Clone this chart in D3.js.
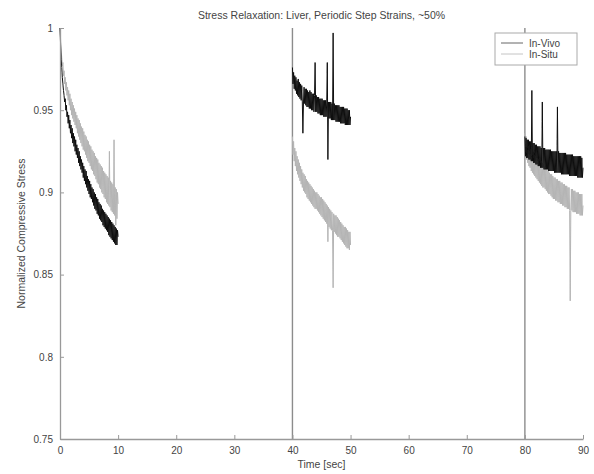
<!DOCTYPE html>
<html>
<head>
<meta charset="utf-8">
<script src="https://cdn.jsdelivr.net/npm/d3@7"></script>
<style>
  body { margin: 0; background: #fff; }
  svg { display: block; font-family: "Liberation Sans", Arial, sans-serif; }
  .axis path, .axis line { stroke: #999; }
  .axis text { fill: #444; font-size: 10px; }
</style>
</head>
<body>
<svg width="594" height="474"></svg>
<script>
const svg = d3.select("svg");

const titleText = "Stress Relaxation: Liver, Periodic Step Strains, ~50%";
const xLabelText = "Time [sec]";
const yLabelText = "Normalized Compressive Stress";

// Tick values and labels (MATLAB style)
const xTicks = [0, 10, 20, 30, 40, 50, 60, 70, 80, 90];
const yTicks = [0.75, 0.8, 0.85, 0.9, 0.95, 1];
const yTickLabels = ["0.75", "0.8", "0.85", "0.9", "0.95", "1"];

// Each hold starts at a step and is sampled every 0.1 s for 10 s
const segmentStarts = [0, 40, 80];
const segmentLength = 10;
const stepTimes = [40, 80];

// In-Vivo stress (0.1 s samples)
const inVivoSeg1 = [1.000,0.990,0.981,0.976,0.970,0.966,0.962,0.959,0.955,0.957,0.950,0.953,0.946,0.949,0.942,0.947,0.939,0.944,0.936,0.941,
  0.933,0.939,0.930,0.936,0.928,0.934,0.925,0.932,0.923,0.929,0.921,0.927,0.918,0.925,0.916,0.922,0.914,0.920,0.912,0.918,
  0.909,0.916,0.907,0.914,0.905,0.913,0.903,0.910,0.901,0.908,0.899,0.907,0.897,0.905,0.896,0.903,0.894,0.902,0.892,0.900,
  0.890,0.899,0.889,0.897,0.887,0.896,0.886,0.894,0.884,0.893,0.883,0.892,0.882,0.890,0.880,0.889,0.879,0.888,0.878,0.887,
  0.877,0.886,0.876,0.885,0.874,0.884,0.873,0.883,0.872,0.882,0.871,0.881,0.870,0.880,0.869,0.879,0.868,0.878,0.868,0.877,0.873];
const inVivoSeg2 = [0.976,0.966,0.973,0.963,0.971,0.962,0.970,0.960,0.968,0.959,0.969,0.958,0.967,0.957,0.966,0.956,0.965,0.955,0.936,0.955,
  0.964,0.954,0.963,0.953,0.963,0.952,0.962,0.952,0.961,0.951,0.962,0.951,0.961,0.950,0.960,0.950,0.960,0.949,0.959,0.979,
  0.949,0.959,0.949,0.958,0.948,0.958,0.948,0.957,0.947,0.957,0.947,0.957,0.947,0.956,0.946,0.956,0.946,0.956,0.946,0.955,
  0.979,0.920,0.955,0.945,0.955,0.945,0.955,0.944,0.954,0.944,0.997,0.944,0.954,0.944,0.953,0.943,0.953,0.943,0.953,0.943,
  0.953,0.943,0.952,0.942,0.952,0.942,0.952,0.942,0.952,0.942,0.951,0.941,0.951,0.941,0.951,0.941,0.950,0.941,0.950,0.941,0.946];
const inVivoSeg3 = [0.934,0.922,0.933,0.921,0.932,0.921,0.932,0.920,0.931,0.920,0.931,0.919,0.962,0.919,0.930,0.918,0.930,0.918,0.929,0.917,
  0.929,0.917,0.928,0.916,0.928,0.916,0.928,0.915,0.927,0.915,0.955,0.915,0.927,0.914,0.927,0.914,0.926,0.914,0.926,0.914,
  0.926,0.913,0.926,0.913,0.926,0.913,0.925,0.913,0.925,0.913,0.925,0.912,0.925,0.912,0.925,0.912,0.952,0.912,0.925,0.912,
  0.924,0.912,0.924,0.911,0.924,0.911,0.924,0.911,0.924,0.911,0.924,0.911,0.923,0.911,0.923,0.911,0.923,0.910,0.923,0.910,
  0.923,0.910,0.923,0.910,0.922,0.910,0.922,0.910,0.922,0.910,0.922,0.909,0.922,0.909,0.922,0.909,0.922,0.909,0.921,0.909,0.915];

// In-Situ stress (0.1 s samples)
const inSituSeg1 = [1.000,0.993,0.986,0.982,0.977,0.979,0.971,0.974,0.966,0.970,0.962,0.967,0.959,0.964,0.956,0.962,0.953,0.960,0.950,0.957,
  0.947,0.955,0.945,0.953,0.943,0.951,0.941,0.949,0.939,0.947,0.936,0.945,0.934,0.944,0.932,0.942,0.930,0.940,0.928,0.939,
  0.926,0.937,0.925,0.935,0.923,0.934,0.921,0.932,0.919,0.931,0.918,0.929,0.916,0.928,0.914,0.926,0.913,0.925,0.911,0.924,
  0.910,0.922,0.908,0.921,0.906,0.920,0.905,0.918,0.903,0.917,0.902,0.916,0.900,0.915,0.899,0.913,0.897,0.912,0.896,0.911,
  0.894,0.910,0.893,0.909,0.892,0.925,0.891,0.907,0.889,0.906,0.888,0.905,0.887,0.932,0.886,0.903,0.880,0.902,0.884,0.900,0.893];
const inSituSeg2 = [0.934,0.923,0.931,0.919,0.927,0.916,0.925,0.913,0.922,0.911,0.920,0.909,0.918,0.907,0.916,0.905,0.914,0.903,0.912,0.901,
  0.911,0.900,0.910,0.899,0.908,0.897,0.907,0.896,0.906,0.895,0.905,0.894,0.904,0.893,0.903,0.892,0.902,0.891,0.901,0.890,
  0.900,0.890,0.900,0.889,0.899,0.888,0.898,0.887,0.897,0.886,0.897,0.885,0.896,0.884,0.895,0.883,0.894,0.882,0.893,0.881,
  0.892,0.870,0.891,0.879,0.890,0.878,0.889,0.877,0.888,0.877,0.842,0.887,0.876,0.886,0.875,0.886,0.874,0.885,0.873,0.884,
  0.873,0.883,0.872,0.882,0.871,0.881,0.870,0.880,0.869,0.879,0.868,0.879,0.867,0.878,0.866,0.877,0.866,0.876,0.865,0.876,0.868];
const inSituSeg3 = [0.936,0.922,0.934,0.920,0.932,0.918,0.930,0.916,0.929,0.915,0.928,0.913,0.927,0.912,0.926,0.911,0.925,0.910,0.924,0.909,
  0.923,0.908,0.922,0.907,0.921,0.906,0.920,0.905,0.919,0.904,0.918,0.903,0.917,0.903,0.916,0.902,0.915,0.901,0.914,0.900,
  0.913,0.899,0.912,0.899,0.911,0.898,0.911,0.897,0.910,0.896,0.909,0.896,0.909,0.895,0.908,0.895,0.908,0.894,0.907,0.894,
  0.907,0.893,0.906,0.893,0.906,0.892,0.905,0.892,0.905,0.891,0.904,0.891,0.904,0.890,0.903,0.890,0.903,0.889,0.834,0.889,
  0.902,0.889,0.902,0.888,0.901,0.888,0.901,0.888,0.900,0.887,0.900,0.887,0.900,0.887,0.899,0.886,0.899,0.886,0.899,0.886,0.892];

const series = [
  { name: "In-Vivo", colour: "#111", legendColour: "#666", segments: [inVivoSeg1, inVivoSeg2, inVivoSeg3] },
  { name: "In-Situ", colour: "#b4b4b4", legendColour: "#c4c4c4", segments: [inSituSeg1, inSituSeg2, inSituSeg3] }
];

// Plot area
const margin = { left: 60, right: 11, top: 28, bottom: 35 };
const width = +svg.attr("width") - margin.left - margin.right;
const height = +svg.attr("height") - margin.top - margin.bottom;

const xScale = d3.scaleLinear().domain([0, 90]).range([0, width]);
const yScale = d3.scaleLinear().domain([0.75, 1]).range([height, 0]);

// Soften the traces a little, the original is a scanned figure
svg.append("defs").append("filter")
  .attr("id", "soft")
  .attr("x", "-5%").attr("y", "-5%").attr("width", "110%").attr("height", "110%")
  .append("feGaussianBlur")
  .attr("stdDeviation", 0.55);

const chart = svg.append("g")
  .attr("transform", `translate(${margin.left},${margin.top})`);

/**
 * Turn one hold's samples into x,y points
 * @param  {array}  values  stress samples
 * @param  {number} start   time of the step
 * @return {array}          [time, stress] pairs
 */
const toPoints = (values, start) =>
  values.map((v, i) => [start + i * segmentLength / (values.length - 1), v]);

const line = d3.line()
  .x(d => xScale(d[0]))
  .y(d => yScale(d[1]));

// Step lines where the strain is applied
chart.selectAll(".step").data(stepTimes)
  .enter().append("line")
  .attr("class", "step")
  .attr("x1", d => xScale(d)).attr("x2", d => xScale(d))
  .attr("y1", yScale(1)).attr("y2", yScale(0.75))
  .attr("stroke", "#8c8c8c")
  .attr("stroke-width", 1.4);

// Draw In-Situ first so In-Vivo sits on top
const traces = chart.append("g").attr("filter", "url(#soft)");
[series[1], series[0]].forEach(s => {
  s.segments.forEach((values, k) => {
    traces.append("path")
      .datum(toPoints(values, segmentStarts[k]))
      .attr("fill", "none")
      .attr("stroke", s.colour)
      .attr("stroke-width", 1)
      .attr("d", line);
  });
});

// Axes, ticks pointing inwards
chart.append("g")
  .attr("class", "axis")
  .attr("transform", `translate(0,${height})`)
  .call(d3.axisBottom(xScale).tickValues(xTicks).tickSizeInner(-4).tickSizeOuter(0).tickPadding(8))
  .select(".domain").attr("stroke-width", 1.3);

chart.append("g")
  .attr("class", "axis")
  .call(d3.axisLeft(yScale).tickValues(yTicks).tickFormat((d, i) => yTickLabels[i])
    .tickSizeInner(-4).tickSizeOuter(0).tickPadding(7))
  .select(".domain").attr("stroke-width", 1.3);

// Title and axis labels
svg.append("text")
  .attr("x", margin.left + width / 2)
  .attr("y", 19)
  .attr("text-anchor", "middle")
  .attr("font-size", 10.5)
  .attr("fill", "#444")
  .text(titleText);

svg.append("text")
  .attr("x", margin.left + width / 2)
  .attr("y", 468)
  .attr("text-anchor", "middle")
  .attr("font-size", 10.5)
  .attr("fill", "#444")
  .text(xLabelText);

svg.append("text")
  .attr("transform", `translate(25,${margin.top + height / 2}) rotate(-90)`)
  .attr("text-anchor", "middle")
  .attr("font-size", 10.5)
  .attr("fill", "#444")
  .text(yLabelText);

// Legend box in the top right corner
const legend = svg.append("g")
  .attr("transform", "translate(495,33)");

legend.append("rect")
  .attr("width", 82).attr("height", 32)
  .attr("fill", "#fff")
  .attr("stroke", "#aaa");

series.forEach((s, i) => {
  const row = legend.append("g").attr("transform", `translate(0,${10 + i * 11})`);
  row.append("line")
    .attr("x1", 6).attr("x2", 28)
    .attr("stroke", s.legendColour);
  row.append("text")
    .attr("x", 34).attr("y", 3.5)
    .attr("font-size", 10)
    .attr("fill", "#444")
    .text(s.name);
});
</script>
</body>
</html>
